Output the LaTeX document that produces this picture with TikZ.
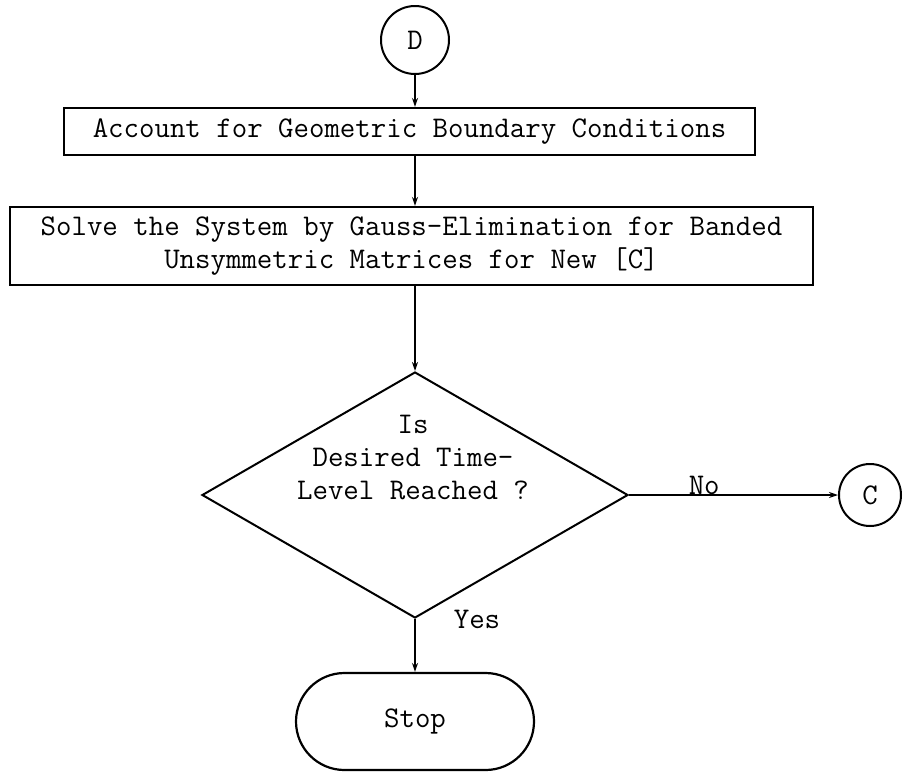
\documentclass[tikz,border=0pt]{standalone}
\usepackage{tikz}
\usetikzlibrary{arrows.meta,positioning,shapes.geometric,shapes.misc}

\begin{document}
\begin{tikzpicture}[
      x=1pt,y=-1pt,
      every node/.style={font=\fontsize{30}{33}\selectfont\ttfamily},
      conn/.style={circle,draw=black,line width=2pt,inner sep=0pt},
      proc/.style={rectangle,draw=black,line width=2.2pt,inner sep=0pt,align=center},
      decision/.style={diamond,draw=black,line width=2pt,inner sep=0pt},
      term/.style={rounded rectangle,draw=black,line width=2.2pt,inner sep=0pt},
      arr/.style={-{Stealth[length=9pt,width=6pt]},line width=1.6pt,draw=black},
      lbl/.style={inner sep=0pt}
    ]

    \useasboundingbox (0,0) rectangle (905,772);

    \node[conn,minimum size=68pt] (D) at (415,40) {D};
    \node[proc,minimum width=691pt,minimum height=47pt] (acc) at (409.5,131.5)
      {Account for Geometric Boundary Conditions};
    \node[proc,minimum width=803pt,minimum height=78pt] (solve) at (411.5,246)
      {Solve the System by Gauss-Elimination for Banded\\Unsymmetric Matrices for New [C]};
    \node[decision,minimum width=426pt,minimum height=246pt] (dec) at (415,495) {};
    \node[align=center,inner sep=0pt] (dectxt) at (413,458)
      {Is\\Desired Time-\\Level Reached ?};
    \node[conn,minimum size=62pt] (C) at (870,495) {C};
    \node[term,minimum width=238pt,minimum height=97pt] (stop) at (415,721.5) {Stop};

    % vertical trunk
    \draw[arr] (D.south) -- (D.south |- acc.north);
    \draw[arr] (acc.south -| D) -- (solve.north -| D);
    \draw[arr] (solve.south -| dec.north) -- (dec.north);
    \draw[arr] (dec.south) -- (stop.north)
      node[pos=0,lbl,anchor=west,xshift=38pt] {Yes};

    % exit to the right
    \draw[arr] (dec.east) -- (C.west)
      node[pos=0.36,lbl,anchor=base,yshift=1pt] {No};

  \end{tikzpicture}
\end{document}
